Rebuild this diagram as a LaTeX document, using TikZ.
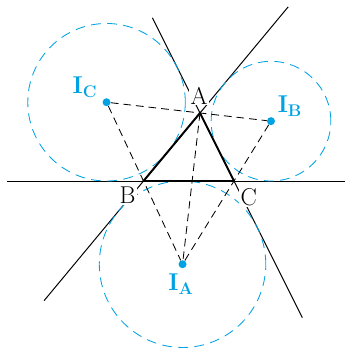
\documentclass[tikz,border=0pt]{standalone}
\usepackage{amsmath,amssymb}
\usepackage{tikz}
\usetikzlibrary{calc}
\definecolor{excol}{RGB}{0,162,227}

\begin{document}
\begin{tikzpicture}[
  x=1cm,y=1cm,
  side/.style={line width=0.7pt},
  tri/.style={line width=1.4pt, line join=miter},
  bis/.style={line width=0.6pt, dash pattern=on 5.5pt off 3.5pt},
  excirc/.style={excol, line width=0.6pt, dash pattern=on 7pt off 4.5pt},
  dot/.style={circle, fill=excol, inner sep=0pt, minimum size=2mm},
  vlab/.style={fill=white, inner sep=1pt, font=\LARGE},
  elab/.style={text=excol, inner sep=1pt, font=\LARGE}
]
\useasboundingbox (-3.5875,-4.225) rectangle (5.1125,4.525);
% vertices of the triangle
\coordinate (A) at (1.4125,1.7);
\coordinate (B) at (0,0);
\coordinate (C) at (2.2625,0);
% excentres
\node[dot] (IA) at (0.976,-2.081) {};
\node[dot] (IB) at (3.187,1.496) {};
\node[dot] (IC) at (-0.924,1.969) {};
% ends of the extended sides
\coordinate (ab1) at ($(B)!-1.76!(A)$);
\coordinate (ab2) at ($(B)!2.56!(A)$);
\coordinate (ac1) at ($(C)!-2.01!(A)$);
\coordinate (ac2) at ($(C)!2.4!(A)$);
\coordinate (bc1) at ($(B)!-1.51!(C)$);
\coordinate (bc2) at ($(B)!2.23!(C)$);
\draw[side] (ab1) -- (ab2);
\draw[side] (ac1) -- (ac2);
\draw[side] (bc1) -- (bc2);
% excircles
\draw[excirc] (IA.center) circle (2.081);
\draw[excirc] (IB.center) circle (1.496);
\draw[excirc] (IC.center) circle (1.969);
% bisectors
\draw[bis] (IC) -- (IB);
\draw[bis] (IC) -- (IA);
\draw[bis] (IB) -- (IA);
\draw[bis] (A) -- (IA);
\draw[tri] (A) -- (B) -- (C) -- cycle;
% labels
\node[vlab] (labA) at (1.3875,2.1375) {A};
\node[vlab] (labB) at (-0.4,-0.3625) {B};
\node[vlab] (labC) at (2.63,-0.4) {C};
\node[elab] (labIA) at (0.9375,-2.575) {$\mathbf{I_A}$};
\node[elab] (labIB) at (3.6625,1.875) {$\mathbf{I_B}$};
\node[elab] (labIC) at (-1.4625,2.35) {$\mathbf{I_C}$};
\end{tikzpicture}
\end{document}
